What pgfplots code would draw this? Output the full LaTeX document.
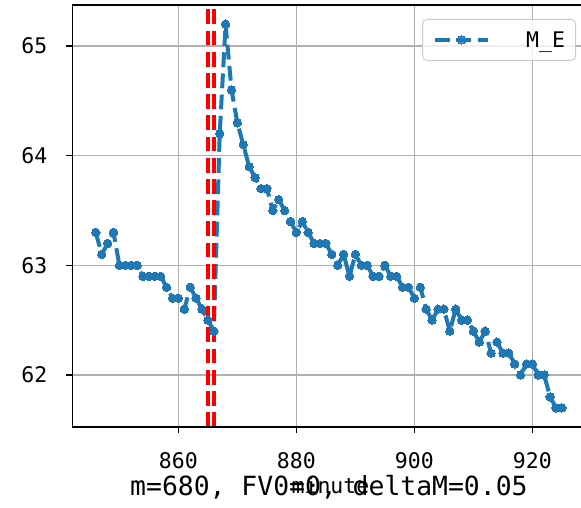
\documentclass[border=0pt]{standalone}
\usepackage{fontspec}
\setmainfont{DejaVu Sans Mono}
\usepackage{pgfplots}
\usepackage{pgfplotstable}
\pgfplotsset{compat=1.18}
\definecolor{mplblue}{HTML}{1F77B4}
\definecolor{gridgray}{HTML}{B0B0B0}
\definecolor{legedge}{HTML}{CCCCCC}

\pgfplotstableread{
x y
846 63.3
847 63.1
848 63.2
849 63.3
850 63.0
851 63.0
852 63.0
853 63.0
854 62.9
855 62.9
856 62.9
857 62.9
858 62.8
859 62.7
860 62.7
861 62.6
862 62.8
863 62.7
864 62.6
865 62.5
866 62.4
867 64.2
868 65.2
869 64.6
870 64.3
871 64.1
872 63.9
873 63.8
874 63.7
875 63.7
876 63.5
877 63.6
878 63.5
879 63.4
880 63.3
881 63.4
882 63.3
883 63.2
884 63.2
885 63.2
886 63.1
887 63.0
888 63.1
889 62.9
890 63.1
891 63.0
892 63.0
893 62.9
894 62.9
895 63.0
896 62.9
897 62.9
898 62.8
899 62.8
900 62.7
901 62.8
902 62.6
903 62.5
904 62.6
905 62.6
906 62.4
907 62.6
908 62.5
909 62.5
910 62.4
911 62.3
912 62.4
913 62.2
914 62.3
915 62.2
916 62.2
917 62.1
918 62.0
919 62.1
920 62.1
921 62.0
922 62.0
923 61.8
924 61.7
925 61.7
}\datatable

\begin{document}
\begin{tikzpicture}[x=1pt,y=1pt]
\begin{axis}[
  name=ax,
  at={(0pt,0pt)}, anchor=south west,
  scale only axis, width=508.5pt, height=422pt,
  xmin=842.05, xmax=928.24, ymin=61.525, ymax=65.375,
  xtick={860,880,900,920}, ytick={62,63,64,65},
  axis line style={draw=none},
  grid=major, major grid style={gridgray, line width=1.3pt},
  tick align=outside, major tick length=6pt,
  tick style={black, line width=1.5pt},
  xtick pos=bottom, ytick pos=left,
  /pgf/number format/assume math mode=true,
  tick label style={font=\fontsize{21.5}{24}\selectfont, inner sep=0pt},
  xticklabel style={anchor=north, yshift=-19pt},
  yticklabel style={anchor=east, xshift=-19pt},
  legend cell align=left,
  legend style={at={(0.99017,0.96682)}, anchor=north east,
    draw=legedge, line width=1pt, rounded corners=4pt,
    fill=white, fill opacity=0.8, draw opacity=1, text opacity=1,
    inner xsep=10.5pt, inner ysep=12.6pt,
    font=\fontsize{21.5}{24}\selectfont,
    nodes={inner sep=0pt, text depth=0pt}},
  legend image code/.code={
    \draw[mark repeat=2, mark phase=2, #1] plot coordinates {(0pt,0pt) (26.5pt,0pt) (53pt,0pt)};
  },
]
\addplot[mplblue, line width=4pt, line join=round,
  dash pattern=on 14.8pt off 6.4pt,
  mark=*, mark size=4.2pt, mark options={solid, line width=0pt}]
  table[x=x, y=y] {\datatable};
\addlegendentry{\hspace*{36pt}M\_E}
\addplot[red, line width=4pt, dash pattern=on 14.8pt off 6.4pt, forget plot]
  coordinates {(865,61.525) (865,65.375)};
\addplot[red, line width=4pt, dash pattern=on 14.8pt off 6.4pt, forget plot]
  coordinates {(866,61.525) (866,65.375)};
\end{axis}
\draw[black, line width=1.6pt, line cap=rect] (ax.south west) -- (ax.south east);
\draw[black, line width=1.6pt, line cap=rect] (ax.north west) -- (ax.north east);
\draw[black, line width=1.6pt, line cap=rect] (ax.south west) -- (ax.north west);
\node[anchor=base, font=\fontsize{21.5}{24}\selectfont, inner sep=0pt] at (258,-67) {minute};
\node[anchor=base, font=\fontsize{26.4}{30}\selectfont, inner sep=0pt] at (256.4,-69) {m=680, FV0=0, deltaM=0.05};
\pgfresetboundingbox
\useasboundingbox (-72.5,-81) rectangle (508.5,427);
\end{tikzpicture}
\end{document}
